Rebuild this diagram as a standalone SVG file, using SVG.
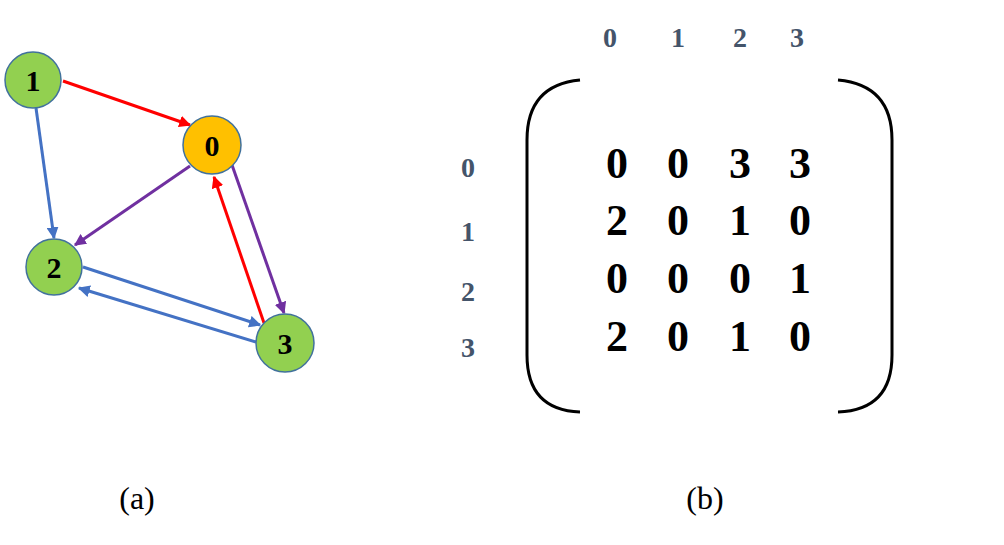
<svg xmlns="http://www.w3.org/2000/svg" width="1004" height="545" viewBox="0 0 1004 545">
<style>
.n circle{stroke:#41719c;stroke-width:1.5}
.n text{font-family:"Liberation Serif",serif;font-weight:bold;font-size:30px;text-anchor:middle;fill:#000}
.e{stroke-width:3;fill:none}
.h{font-family:"Liberation Serif",serif;font-weight:bold;font-size:28px;fill:#44546a;text-anchor:middle}
.v{font-family:"Liberation Serif",serif;font-weight:bold;font-size:44px;fill:#000;text-anchor:middle}
.c{font-family:"Liberation Serif",serif;font-size:32px;fill:#000;text-anchor:middle}
</style>
<defs>
<marker id="ar" viewBox="0 0 10 10" refX="9" refY="5" markerWidth="4" markerHeight="4" orient="auto"><path d="M0,0L10,5L0,10z" fill="#ff0000"/></marker>
<marker id="ab" viewBox="0 0 10 10" refX="9" refY="5" markerWidth="4" markerHeight="4" orient="auto"><path d="M0,0L10,5L0,10z" fill="#4472c4"/></marker>
<marker id="ap" viewBox="0 0 10 10" refX="9" refY="5" markerWidth="4" markerHeight="4" orient="auto"><path d="M0,0L10,5L0,10z" fill="#7030a0"/></marker>
</defs>
<g id="connectors">
<line class="e" x1="63" y1="81" x2="190" y2="125" stroke="#ff0000" marker-end="url(#ar)"/>
<line class="e" x1="36" y1="108" x2="54" y2="238" stroke="#4472c4" marker-end="url(#ab)"/>
<line class="e" x1="190" y1="166" x2="75" y2="245" stroke="#7030a0" marker-end="url(#ap)"/>
<line class="e" x1="232" y1="165" x2="284" y2="313" stroke="#7030a0" marker-end="url(#ap)"/>
<line class="e" x1="264" y1="323" x2="214" y2="177" stroke="#ff0000" marker-end="url(#ar)"/>
<line class="e" x1="83" y1="267" x2="260" y2="325" stroke="#4472c4" marker-end="url(#ab)"/>
<line class="e" x1="256" y1="342" x2="79" y2="288" stroke="#4472c4" marker-end="url(#ab)"/>
</g>
<g id="node1" class="n"><circle cx="33" cy="80" r="28" fill="#92d050"/><text x="33" y="91">1</text></g>
<g id="node0" class="n"><circle cx="212" cy="145" r="29" fill="#ffc000"/><text x="212" y="156">0</text></g>
<g id="node2" class="n"><circle cx="54" cy="267" r="28" fill="#92d050"/><text x="54" y="278">2</text></g>
<g id="node3" class="n"><circle cx="285" cy="343" r="29" fill="#92d050"/><text x="285" y="354">3</text></g>
<g id="matrix">
<text class="h" x="610" y="47">0</text><text class="h" x="678" y="47">1</text><text class="h" x="740" y="47">2</text><text class="h" x="797" y="47">3</text>
<text class="h" x="468" y="177">0</text><text class="h" x="468" y="241">1</text><text class="h" x="468" y="301">2</text><text class="h" x="468" y="357">3</text>
<path d="M580,80 Q527,85 527,140 L527,355 Q527,410 580,412" fill="none" stroke="#000" stroke-width="3"/>
<path d="M838,80 Q892,85 892,140 L892,355 Q892,410 838,412" fill="none" stroke="#000" stroke-width="3"/>
<g class="v">
<text x="617" y="178">0</text><text x="678" y="178">0</text><text x="740" y="178">3</text><text x="800" y="178">3</text>
<text x="617" y="235">2</text><text x="678" y="235">0</text><text x="740" y="235">1</text><text x="800" y="235">0</text>
<text x="617" y="293">0</text><text x="678" y="293">0</text><text x="740" y="293">0</text><text x="800" y="293">1</text>
<text x="617" y="351">2</text><text x="678" y="351">0</text><text x="740" y="351">1</text><text x="800" y="351">0</text>
</g>
</g>
<text class="c" x="137" y="509">(a)</text>
<text class="c" x="705" y="509">(b)</text>
</svg>
